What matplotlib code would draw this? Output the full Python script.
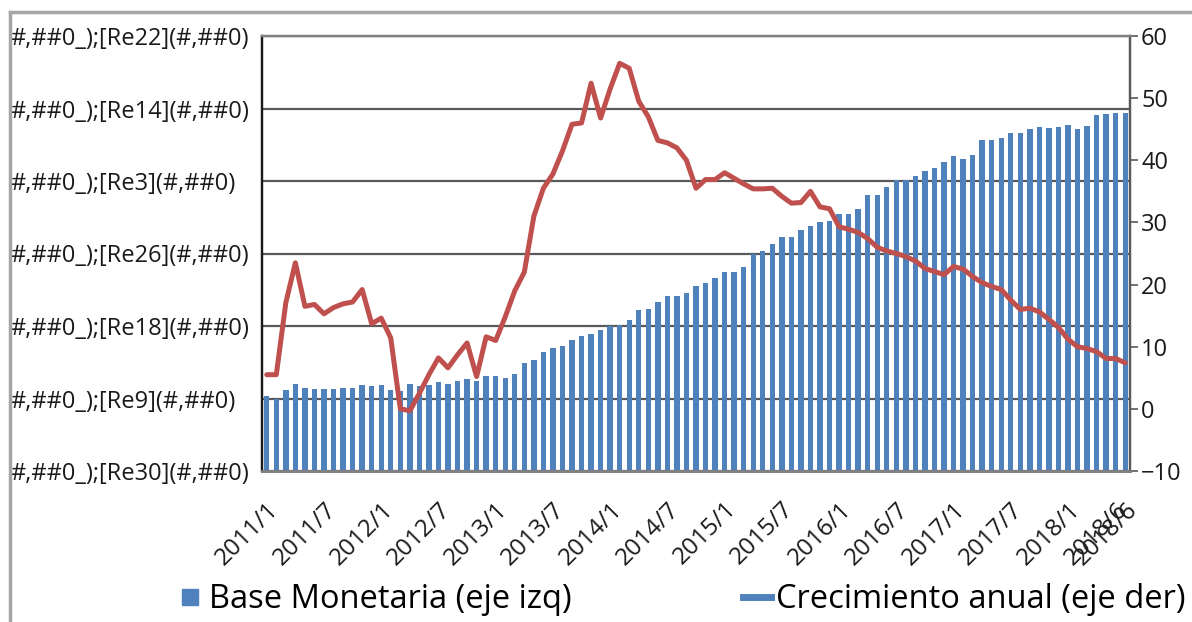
import matplotlib
matplotlib.use("Agg")
import matplotlib.pyplot as plt
from matplotlib.lines import Line2D

plt.rcParams['font.family'] = ['Open Sans', 'DejaVu Sans']

# ---------------- data ----------------
months = [f"{y}/{m}" for y in range(2011, 2019) for m in range(1, 13)][:90] + ["2018/6"]

base_monetaria = [
    1.03, 1.00, 1.12, 1.20, 1.14, 1.13, 1.13, 1.13, 1.14, 1.15,
    1.18, 1.17, 1.18, 1.12, 1.10, 1.20, 1.17, 1.18, 1.23, 1.20,
    1.24, 1.27, 1.24, 1.31, 1.31, 1.28, 1.34, 1.49, 1.53, 1.64,
    1.70, 1.72, 1.81, 1.86, 1.89, 1.94, 2.00, 2.01, 2.08, 2.22,
    2.24, 2.33, 2.42, 2.42, 2.46, 2.55, 2.59, 2.66, 2.75, 2.75,
    2.81, 3.00, 3.04, 3.13, 3.23, 3.23, 3.32, 3.38, 3.43, 3.45,
    3.55, 3.55, 3.62, 3.81, 3.81, 3.92, 4.02, 4.02, 4.07, 4.14,
    4.18, 4.26, 4.35, 4.31, 4.36, 4.56, 4.56, 4.60, 4.66, 4.66,
    4.72, 4.74, 4.73, 4.74, 4.77, 4.72, 4.76, 4.91, 4.93, 4.94,
    4.94,
]

crecimiento = [
    5.5, 5.5, 17.1, 23.5, 16.5, 16.8, 15.3, 16.3, 16.9, 17.2,
    19.2, 13.7, 14.6, 11.4, 0.0, -0.3, 2.5, 5.5, 8.2, 6.6,
    8.7, 10.6, 5.2, 11.6, 11.0, 14.8, 19.0, 22.0, 31.0, 35.5,
    37.8, 41.5, 45.8, 46.0, 52.4, 46.8, 51.5, 55.6, 54.8, 49.5,
    47.0, 43.2, 42.8, 42.0, 40.0, 35.5, 36.9, 36.9, 38.0, 37.1,
    36.2, 35.4, 35.4, 35.5, 34.2, 33.1, 33.2, 35.0, 32.5, 32.2,
    29.3, 28.9, 28.4, 27.4, 26.0, 25.4, 25.0, 24.5, 23.8, 22.6,
    22.1, 21.6, 22.9, 22.5, 21.3, 20.3, 19.7, 19.2, 17.5, 16.0,
    16.2, 15.6, 14.4, 13.1, 11.2, 10.0, 9.7, 9.2, 8.1, 8.1,
    7.4,
]

left_tick_labels = [
    "#,##0_);[Re30](#,##0)", "#,##0_);[Re9](#,##0)", "#,##0_);[Re18](#,##0)",
    "#,##0_);[Re26](#,##0)", "#,##0_);[Re3](#,##0)", "#,##0_);[Re14](#,##0)",
    "#,##0_);[Re22](#,##0)",
]
right_ticks = [-10, 0, 10, 20, 30, 40, 50, 60]
xtick_idx = [0, 6, 12, 18, 24, 30, 36, 42, 48, 54, 60, 66, 72, 78, 84, 89, 90]

legend_labels = ["Base Monetaria (eje izq)", "Crecimiento anual (eje der)"]

# ---------------- style ----------------
BLUE = "#4F81BD"
RED = "#C0504D"
GRID = "#595959"
TXT = "#1a1a1a"

W, H = 1192, 622
fig = plt.figure(figsize=(W / 100, H / 100), dpi=100)
L, R, T, B = 262, 1130, 36, 471
ax = fig.add_axes([L / W, 1 - B / H, (R - L) / W, (B - T) / H])
ax2 = ax.twinx()

x = list(range(len(months)))
ax.bar(x, base_monetaria, width=0.56, color=BLUE, zorder=2)
ax.set_xlim(-0.5, len(months) - 0.5)
ax.set_ylim(0, 6)
ax.set_yticks(range(7))
ax.set_yticklabels(left_tick_labels, ha="left", fontsize=17, color=TXT)
ax.tick_params(axis="y", length=0, pad=181)
ax.set_axisbelow(True)
ax.yaxis.grid(True, color=GRID, lw=1.6)

ax.set_xticks(xtick_idx)
ax.set_xticklabels([months[i] for i in xtick_idx], rotation=45, ha="right",
                   rotation_mode="anchor", fontsize=17.5, color=TXT)
ax.tick_params(axis="x", length=0, pad=19)

ax2.plot(x, crecimiento, color=RED, lw=3.6, solid_joinstyle="round",
         solid_capstyle="round", zorder=3)
ax2.set_ylim(-10, 60)
ax2.set_yticks(right_ticks)
ax2.tick_params(axis="y", direction="out", length=6, width=1.2, color=GRID,
                labelsize=17, labelcolor=TXT, pad=2)

for a in (ax, ax2):
    a.spines["left"].set_color(TXT)
    a.spines["left"].set_linewidth(1.6)
    a.spines["top"].set_color("#808080")
    a.spines["top"].set_linewidth(1.6)
    a.spines["bottom"].set_color("#808080")
    a.spines["bottom"].set_linewidth(2.0)
    a.spines["right"].set_color(GRID)
    a.spines["right"].set_linewidth(1.6)

# legend entries (two separate legends to reproduce positions)
h1 = Line2D([], [], marker="s", linestyle="none", markersize=12, color=BLUE)
h2 = Line2D([], [], color=BLUE, lw=5)
fig.legend([h1], [legend_labels[0]], loc="center left",
           bbox_to_anchor=(176 / W, 1 - 600 / H), frameon=False, fontsize=23.5,
           handlelength=0.85, handletextpad=0.15, borderpad=0, borderaxespad=0)
fig.legend([h2], [legend_labels[1]], loc="center left",
           bbox_to_anchor=(743 / W, 1 - 600 / H), frameon=False, fontsize=23.5,
           handlelength=0.85, handletextpad=0.15, borderpad=0, borderaxespad=0)

# outer chart border (top and left visible)
fig.add_artist(Line2D([10 / W, 10 / W], [0, 1 - 12 / H], transform=fig.transFigure,
                      color="#A6A6A6", lw=2.5))
fig.add_artist(Line2D([10 / W, 1], [1 - 12 / H, 1 - 12 / H], transform=fig.transFigure,
                      color="#A6A6A6", lw=2.5))

fig.savefig("out.png", dpi=100, facecolor="white")
